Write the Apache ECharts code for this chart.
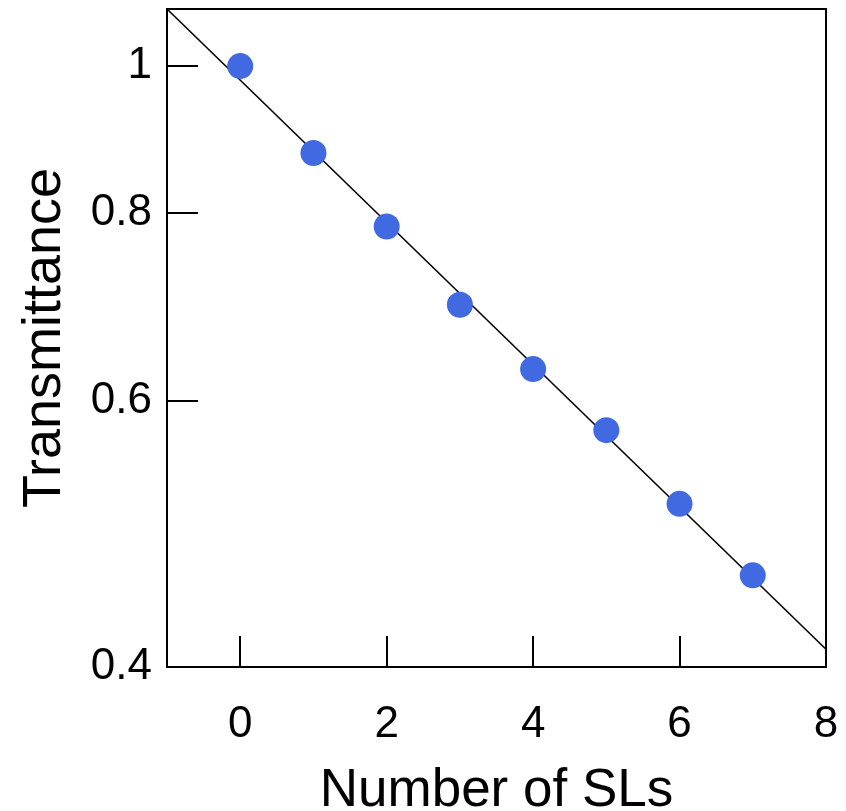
<!DOCTYPE html>
<html>
<head>
<meta charset="utf-8">
<script src="https://cdn.jsdelivr.net/npm/echarts@6/dist/echarts.min.js"></script>
<style>html,body{margin:0;padding:0;background:#fff}#c{width:846px;height:811px}</style>
</head>
<body>
<div id="c"></div>
<script>
var layers = [0, 1, 2, 3, 4, 5, 6, 7];
var transmittance = [1.0, 0.876, 0.783, 0.695, 0.630, 0.574, 0.513, 0.460];
var fitX = [-1, 8];
var fitY = [1.091, 0.411];
var xTicks = [0, 2, 4, 6, 8];
var yTicks = [0.4, 0.6, 0.8, 1];

var font = '"Liberation Sans", Arial, sans-serif';
var chart = echarts.init(document.getElementById('c'), null, {renderer: 'canvas'});
chart.setOption({
  animation: false,
  backgroundColor: '#fff',
  grid: {left: 167, right: 20, top: 9, bottom: 144, containLabel: false, outerBoundsMode: 'none', show: true, borderColor: '#000', borderWidth: 2, backgroundColor: 'transparent'},
  xAxis: {
    type: 'value', min: -1, max: 8,
    name: 'Number of SLs', nameLocation: 'middle', nameGap: 98,
    nameTextStyle: {fontFamily: font, fontSize: 53, color: '#000'},
    axisLine: {show: false, onZero: false},
    splitLine: {show: false},
    axisTick: {show: true, inside: true, length: 31, lineStyle: {color: '#000', width: 2}, customValues: xTicks},
    axisLabel: {fontFamily: font, fontSize: 44, color: '#000', margin: 36, customValues: xTicks, formatter: function (v) { return String(v); }}
  },
  yAxis: {
    type: 'log', logBase: 10, min: 0.4, max: 1.091,
    name: 'Transmittance', nameLocation: 'middle', nameGap: 95,
    nameTextStyle: {fontFamily: font, fontSize: 54, color: '#000'},
    axisLine: {show: false, onZero: false},
    splitLine: {show: false},
    axisTick: {show: true, inside: true, length: 31, lineStyle: {color: '#000', width: 2}, customValues: yTicks},
    axisLabel: {fontFamily: font, fontSize: 44, color: '#000', margin: 15, customValues: yTicks, formatter: function (v) { return String(+v.toFixed(2)); }}
  },
  series: [
    {type: 'line', data: fitX.map(function (x, i) { return [x, fitY[i]]; }), showSymbol: false, symbol: 'none', lineStyle: {color: '#000', width: 1.6}, z: 1, silent: true},
    {type: 'scatter', data: layers.map(function (x, i) { return [x, transmittance[i]]; }), symbolSize: 26, itemStyle: {color: '#4169E1', opacity: 1}, z: 2}
  ]
});
</script>
</body>
</html>
